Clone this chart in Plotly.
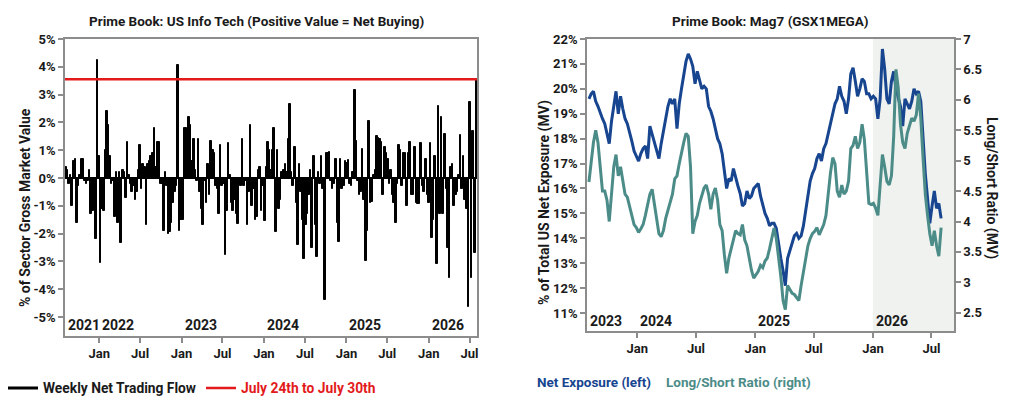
import pandas as pd
import plotly.graph_objects as go

# ---- left panel: weekly net trading flow, % of sector gross MV ----
flow_start = "2021-08-06"
flow = [
    0.4, 0.3, -0.2, 0.1, -1.0, 0.6, 0.7, -1.6, -0.3, 0.1,
    0.7, 0.7, -0.1, -0.2, -0.1, 0.3, -1.3, -1.2, -0.6, -2.2,
    4.25, 0.8, -3.05, -1.1, -1.2, 1.0, 2.4, 1.9, 0.8, -0.2,
    -0.1, -1.4, 0.2, -1.6, 0.2, -2.35, 0.3, 0.2, -0.7, 1.3,
    0.1, -0.2, -0.5, -0.3, -0.8, -0.5, 0.3, 1.2, -0.4, 0.5,
    0.4, -1.7, 0.5, 0.6, 0.8, 0.9, 1.8, 0.4, 1.3, 1.3,
    -0.2, -0.2, -1.9, 0.2, -0.3, -2.0, -1.95, -1.6, -0.9, -0.5,
    -0.3, 4.05, -1.9, -1.5, -1.5, 1.8, 1.8, 0.7, 2.2, 1.9,
    0.6, 1.4, 0.3, -0.1, 1.4, -0.5, -1.1, -1.7, -0.1, -0.9,
    0.5, -0.6, 1.35, 1.0, 0.9, -0.3, -0.4, -1.3, 1.2, -0.3,
    -0.2, -2.75, -1.2, 1.25, 0.1, -0.9, -1.2, -0.8, -1.3, -1.65,
    -0.2, -0.3, 1.4, -0.3, -0.1, -1.7, -0.5, 1.9, -1.0, -0.4,
    -1.5, -1.4, 0.3, 0.4, -1.2, -0.3, -1.55, 0.4, 1.3, 1.0,
    0.3, 1.0, 1.8, -1.95, 1.0, -1.1, -0.8, 0.2, 0.3, 0.5,
    0.2, 1.4, 2.65, 0.2, -0.3, 1.1, -0.9, -2.4, 0.5, -0.5,
    -1.5, -2.9, -1.7, -1.3, -0.6, 0.3, -2.5, 0.8, -1.7, -2.85,
    0.2, -0.2, 0.8, -0.4, -4.4, 0.9, 0.9, 0.95, -0.1, -0.4,
    -0.2, 0.7, -1.6, -2.3, 0.7, -0.4, -0.3, 0.6, 0.55, 0.65,
    -0.2, -0.3, 0.2, 3.15, 1.35, -0.1, -0.6, -0.5, 1.05, -0.8,
    -3.0, -1.9, 2.05, -0.9, -0.85, 0.1, 0.3, 1.5, 1.45, 1.4,
    1.3, -0.6, 1.1, 0.9, 0.7, -0.2, 0.3, -0.6, -0.9, -1.6,
    -0.2, 1.2, 1.0, -0.3, 0.9, 0.9, -1.0, 0.9, 1.3, -0.6,
    -0.6, 1.1, -0.9, -0.95, -0.95, 1.25, -0.3, -0.5, 0.7, -0.6,
    -0.9, 1.25, -2.15, -1.5, 0.8, -3.1, 2.6, -1.3, 2.2, -1.3,
    1.6, -0.4, -2.5, -3.6, 0.4, 0.5, -1.0, -0.6, -0.5, 0.1,
    1.55, -0.4, 0.8, -0.8, -1.1, -4.65, 2.75, -3.6, 1.7, -2.7, 3.55,
]
flow_ticks = [-5, -4, -3, -2, -1, 0, 1, 2, 3, 4, 5]
flow_years = [2021, 2022, 2023, 2024, 2025, 2026]

# ---- right panel: Mag7 net exposure and long/short ratio ----
mag_start = "2023-08-04"
net_exp = [
    19.6, 19.8, 19.9, 19.5, 19.3, 19.0, 18.8, 18.6, 18.2, 17.8,
    18.7, 19.4, 19.9, 19.0, 19.7, 19.2, 18.8, 18.6, 18.3, 17.9,
    17.5, 17.3, 17.1, 17.4, 17.6, 17.7, 17.2, 18.5, 18.2, 17.9,
    17.5, 17.2, 17.8, 18.4, 18.8, 19.3, 19.6, 19.4, 19.6, 18.4,
    19.4, 20.0, 20.5, 21.1, 21.4, 21.2, 20.9, 20.2, 20.7, 20.3,
    20.0, 20.1, 20.0, 19.3, 19.1, 18.8, 18.4, 18.0, 17.8, 17.4,
    16.7, 16.0, 16.4, 16.3, 16.8, 16.4, 16.1, 15.8, 15.3, 15.4,
    15.9, 15.6, 15.7, 16.0, 16.1, 16.2, 15.7, 15.3, 15.0, 14.8,
    14.5, 14.6, 14.6, 14.4, 13.7, 13.2, 12.7, 12.1, 13.2, 13.5,
    13.9, 14.1, 14.2, 14.0, 14.1, 14.5, 15.1, 15.7, 16.3, 16.6,
    16.8, 17.2, 17.4, 17.1, 17.6, 17.8, 18.2, 18.7, 19.0, 19.4,
    19.6, 20.1, 19.7, 19.5, 19.0, 19.6, 20.6, 20.85, 20.3, 19.7,
    20.0, 20.4, 20.3, 19.8, 19.8, 19.6, 19.7, 19.6, 18.8, 19.6,
    21.6, 20.8, 19.6, 19.4, 20.3, 20.7, 20.0, 19.6, 19.3, 18.5,
    19.6, 19.4, 19.2, 19.5, 20.0, 19.8, 19.9, 19.5, 18.0, 16.6,
    15.6, 14.6, 15.3, 15.9, 15.2, 15.4, 14.8,
]
ls_ratio = [
    4.65, 5.0, 5.3, 5.5, 5.3, 4.9, 4.5, 4.5, 4.35, 4.0,
    4.4, 4.9, 5.1, 4.75, 4.9, 4.7, 4.45, 4.4, 4.25, 4.1,
    3.95, 3.9, 3.82, 3.88, 3.95, 4.1, 4.3, 4.45, 4.53, 4.28,
    4.05, 3.8, 3.75, 3.85, 4.05, 4.2, 4.35, 4.45, 4.7, 4.75,
    4.95, 5.15, 5.3, 5.45, 5.4, 4.9, 3.8, 4.0, 4.1, 4.3,
    4.45, 4.55, 4.6, 4.45, 4.2, 4.45, 4.55, 4.35, 3.95, 3.85,
    3.45, 3.15, 3.4, 3.55, 3.7, 3.85, 3.8, 3.78, 3.95, 3.7,
    3.6, 3.4, 3.2, 3.07, 3.12, 3.18, 3.28, 3.24, 3.35, 3.4,
    3.55, 3.75, 3.89, 3.72, 3.45, 3.1, 2.7, 2.55, 2.95, 2.88,
    2.82, 2.8, 2.74, 2.7, 2.95, 3.15, 3.4, 3.6, 3.72, 3.8,
    3.84, 3.9, 3.78, 3.88, 3.95, 4.1, 4.5, 4.8, 5.05, 4.95,
    4.5, 4.4, 4.6, 4.45, 4.5, 4.66, 5.2, 5.25, 5.4, 5.2,
    5.3, 5.6, 5.35, 4.9, 4.3, 4.28, 4.3, 4.22, 4.1, 4.6,
    5.1, 4.9, 4.66, 4.6, 4.75, 5.4, 6.5, 6.2, 5.6, 5.3,
    5.2, 5.45, 5.6, 5.7, 5.65, 5.75, 6.1, 5.7, 5.05, 4.45,
    4.1, 3.8, 3.6, 3.85, 3.6, 3.43, 3.9,
]
exp_ticks = list(range(11, 23))
ratio_ticks = [2.5, 3, 3.5, 4, 4.5, 5, 5.5, 6, 6.5, 7]
mag_years = [2023, 2024, 2025, 2026]
shade_from = "2026-01-01"

BLUE = "#17458f"
TEAL = "#4c8c88"
GREY = "#8c8c8c"
INK = "#1a1a1a"
FONT = "Roboto"

# page body has an 8px margin, so the figure is drawn 8px smaller and positions
# below are given in window pixels
OFF = 8
W, H = 1024 - OFF, 402 - OFF


def px(x):
    return (x - OFF) / W


def py(y):
    return 1 - (y - OFF) / H


flow_dates = pd.date_range(flow_start, periods=len(flow), freq="7D")
mag_dates = pd.date_range(mag_start, periods=len(net_exp), freq="7D")

left_range = ["2021-08-02", "2026-08-03"]
right_range = ["2023-07-29", "2026-09-09"]

fig = go.Figure()

fig.add_trace(go.Bar(x=flow_dates, y=flow, marker=dict(color="black", line=dict(color="black", width=1.0)),
                     showlegend=False, xaxis="x", yaxis="y"))
# legend entries for the left panel
fig.add_trace(go.Scatter(x=[None], y=[None], mode="lines", line=dict(color="black", width=3),
                         name="Weekly Net Trading Flow", xaxis="x", yaxis="y"))
fig.add_trace(go.Scatter(x=left_range, y=[flow[-1]] * 2, mode="lines",
                         line=dict(color="#e31a1c", width=2.5),
                         name="<span style='color:#e31a1c'>July 24th to July 30th</span>",
                         xaxis="x", yaxis="y"))

fig.add_trace(go.Scatter(x=mag_dates, y=net_exp, mode="lines", line=dict(color=BLUE, width=3),
                         showlegend=False, xaxis="x2", yaxis="y2"))
fig.add_trace(go.Scatter(x=mag_dates, y=ls_ratio, mode="lines", line=dict(color=TEAL, width=3),
                         showlegend=False, xaxis="x2", yaxis="y3"))

axis_common = dict(showline=True, linecolor=GREY, linewidth=1.5, ticks="outside",
                   tickcolor=GREY, ticklen=5, tickwidth=1.5, showgrid=False, automargin=False,
                   tickfont=dict(size=13, color=INK, family=FONT, weight="bold"))


def note(text, x, y, **kw):
    d = dict(text=text, x=px(x), y=py(y), xref="paper", yref="paper",
             showarrow=False, xanchor="center", yanchor="middle")
    d.update(kw)
    return d


annotations = [
    note("Prime Book: US Info Tech (Positive Value = Net Buying)", 256, 21, font=dict(size=13.5)),
    note("Prime Book: Mag7 (GSX1MEGA)", 770, 21, font=dict(size=13.5)),
    note("% of Sector Gross Market Value", 25, 208, textangle=-90, font=dict(size=14)),
    note("% of Total US Net Exposure (MV)", 544, 203, textangle=-90, font=dict(size=14)),
    note("Long/Short Ratio (MV)", 992, 188, textangle=90, font=dict(size=14)),
    note("Net Exposure (left)", 535, 382, xanchor="left", font=dict(size=13.5, color=BLUE)),
    note("Long/Short Ratio (right)", 664, 382, xanchor="left", font=dict(size=13.5, color=TEAL)),
]
for yr in flow_years:
    x0 = max(pd.Timestamp(f"{yr}-01-01"), pd.Timestamp(left_range[0]))
    annotations.append(dict(text=str(yr), x=x0, y=0.0, xref="x", yref="y domain",
                            xanchor="left", yanchor="bottom", showarrow=False,
                            xshift=1, yshift=1, font=dict(size=14)))
for yr in mag_years:
    x0 = max(pd.Timestamp(f"{yr}-01-01"), pd.Timestamp(right_range[0]))
    annotations.append(dict(text=str(yr), x=x0, y=0.0, xref="x2", yref="y2 domain",
                            xanchor="left", yanchor="bottom", showarrow=False,
                            xshift=1, yshift=0, font=dict(size=14)))

fig.update_layout(
    width=W, height=H,
    margin=dict(l=0, r=0, t=0, b=0, autoexpand=False),
    paper_bgcolor="white", plot_bgcolor="white",
    font=dict(family=FONT, color=INK, size=13, weight="bold"),
    bargap=0,
    xaxis=dict(domain=[px(65), px(477)], anchor="y", type="date", range=left_range,
               dtick="M6", tick0="2022-01-01", tickformat="%b", mirror=True, **axis_common),
    yaxis=dict(domain=[py(336), py(39)], anchor="x", range=[-5.68, 5.0],
               tickvals=flow_ticks, ticktext=[f"{v}%" for v in flow_ticks], mirror=True,
               zeroline=True, zerolinecolor="black", zerolinewidth=1.5, **axis_common),
    xaxis2=dict(domain=[px(587), px(954)], anchor="y2", type="date", range=right_range,
                dtick="M6", tick0="2024-01-01", tickformat="%b", mirror=True, **axis_common),
    yaxis2=dict(domain=[py(331), py(39)], anchor="x2", range=[10.28, 22],
                tickvals=exp_ticks, ticktext=[f"{v}%" for v in exp_ticks], zeroline=False,
                **axis_common),
    yaxis3=dict(overlaying="y2", side="right", anchor="x2", range=[2.2, 7],
                tickvals=ratio_ticks, ticktext=[f"{v:g}" for v in ratio_ticks], zeroline=False,
                **axis_common),
    shapes=[dict(type="rect", xref="x2", yref="y2 domain", x0=shade_from, x1=right_range[1],
                 y0=0, y1=1, fillcolor="#eff2ee", line_width=0, layer="below")],
    legend=dict(orientation="h", x=px(3), y=py(388), xanchor="left", yanchor="middle",
                font=dict(size=13.8, color=INK), bgcolor="rgba(0,0,0,0)", itemwidth=30,
                tracegroupgap=0),
    annotations=annotations,
)

fig.write_html("out.html")
